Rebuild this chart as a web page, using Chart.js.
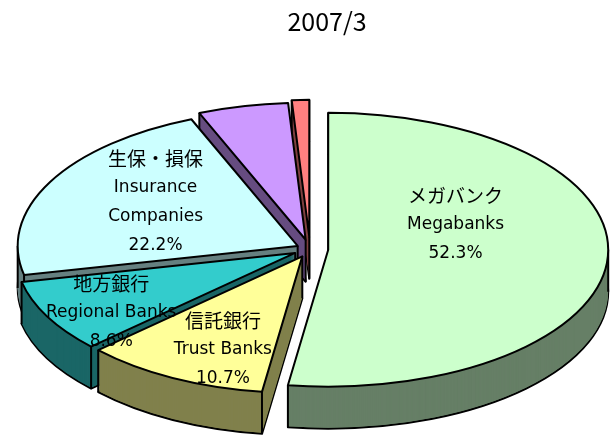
<!DOCTYPE html>
<html>
<head>
<meta charset="utf-8">
<script src="https://cdn.jsdelivr.net/npm/chart.js@4"></script>
<style>
  html, body { margin: 0; padding: 0; background: #fff; }
  #wrap { width: 614px; height: 446px; }
</style>
</head>
<body>
<div id="wrap"><canvas id="pie"></canvas></div>
<script>
// holdings by type of institution, March 2007
const sectorsJa = ['メガバンク', '信託銀行', '地方銀行', '生保・損保', 'その他(1)', 'その他(2)'];
const sectorsEn = [['Megabanks'], ['Trust Banks'], ['Regional Banks'], ['Insurance', 'Companies'], [], []];
const shares    = [52.3, 10.7, 8.6, 22.2, 5.2, 1.0];
const period    = '2007/3';

// look of each slice: top face, side wall, how far it is pulled out
const topColors  = ['#ccffcc', '#ffff99', '#33cccc', '#ccffff', '#cc99ff', '#ff8080'];
const sideColors = ['#667f66', '#80804c', '#1a6666', '#668080', '#664c80', '#804040'];
const explode    = [0.065, 0.06, 0.06, 0.05, 0.07, 0.09];
const labelR     = [0.49, 0.74, 0.79, 0.60];
const labelTurn  = [-26, -5, -6, 4.5];

const CENTER_X = 0.505;  // pie centre, share of canvas width
const RADIUS_X = 0.456;  // horizontal radius, share of canvas width
const TILT = 0.489;      // ry / rx
const DEPTH = 42;        // thickness of the disc in px

const pie3d = {
  id: 'pie3d',
  beforeDatasetsDraw(chart) {
    const ctx = chart.ctx;
    const area = chart.chartArea;
    const meta = chart.getDatasetMeta(0);
    const rx = chart.width * RADIUS_X;
    const ry = rx * TILT;
    const cx = chart.width * CENTER_X;
    const cy = area.bottom - DEPTH - ry;

    const wedge = (arc, ox, oy) => {
      const R = arc.outerRadius;
      ctx.save();
      ctx.translate(cx + ox, cy + oy);
      ctx.scale(rx / R, ry / R);
      ctx.translate(-arc.x, -arc.y);
      ctx.beginPath();
      ctx.moveTo(arc.x, arc.y);
      ctx.arc(arc.x, arc.y, R, arc.startAngle, arc.endAngle);
      ctx.closePath();
      ctx.restore();
    };

    // back slices first
    const order = meta.data.map((arc, i) => i).sort((a, b) => {
      const ma = (meta.data[a].startAngle + meta.data[a].endAngle) / 2;
      const mb = (meta.data[b].startAngle + meta.data[b].endAngle) / 2;
      return Math.sin(ma) - Math.sin(mb);
    });

    ctx.save();
    ctx.lineJoin = 'round';
    ctx.lineWidth = 2;
    ctx.strokeStyle = '#000';
    order.forEach(i => {
      const arc = meta.data[i];
      const mid = (arc.startAngle + arc.endAngle) / 2;
      const ox = Math.cos(mid) * explode[i] * rx;
      const oy = Math.sin(mid) * explode[i] * ry;

      // side wall, stacked from the bottom up
      ctx.fillStyle = sideColors[i];
      wedge(arc, ox, oy + DEPTH);
      ctx.fill();
      ctx.stroke();
      for (let d = DEPTH - 1; d >= 1; d--) {
        wedge(arc, ox, oy + d);
        ctx.fill();
      }

      // vertical edges at the corners and at the rim's far left/right
      const angles = [arc.startAngle, arc.endAngle];
      [0, Math.PI, 2 * Math.PI, -Math.PI].forEach(t => {
        if (t > arc.startAngle && t < arc.endAngle) angles.push(t);
      });
      const pts = [[cx + ox, cy + oy]].concat(angles.map(t =>
        [cx + ox + Math.cos(t) * rx, cy + oy + Math.sin(t) * ry]));
      ctx.beginPath();
      pts.forEach(([x, y]) => { ctx.moveTo(x, y); ctx.lineTo(x, y + DEPTH); });
      ctx.stroke();

      // top face
      ctx.fillStyle = topColors[i];
      wedge(arc, ox, oy);
      ctx.fill();
      ctx.stroke();
    });

    // labels
    ctx.fillStyle = '#000';
    ctx.textAlign = 'center';
    ctx.textBaseline = 'middle';
    meta.data.forEach((arc, i) => {
      if (!sectorsEn[i].length) return;
      const mid = (arc.startAngle + arc.endAngle) / 2;
      const ox = Math.cos(mid) * explode[i] * rx;
      const oy = Math.sin(mid) * explode[i] * ry;
      const a = mid + labelTurn[i] * Math.PI / 180;
      const lx = cx + ox + Math.cos(a) * labelR[i] * rx;
      const ly = cy + oy + Math.sin(a) * labelR[i] * ry;
      const lines = [sectorsJa[i]].concat(sectorsEn[i], [shares[i].toFixed(1) + '%']);
      const step = 29;
      const y0 = ly - (lines.length - 1) * step / 2;
      lines.forEach((txt, k) => {
        ctx.font = k === 0 ? '19px "Noto Sans CJK JP"' : '17px "DejaVu Sans"';
        ctx.fillText(txt, lx, y0 + k * step);
      });
    });
    ctx.restore();
    return false;
  }
};

new Chart(document.getElementById('pie'), {
  type: 'pie',
  data: {
    labels: sectorsJa,
    datasets: [{
      data: shares,
      backgroundColor: topColors,
      borderWidth: 0
    }]
  },
  options: {
    responsive: true,
    maintainAspectRatio: false,
    animation: false,
    // the side padding only moves the title; the pie is placed by CENTER_X
    layout: { padding: { left: 50, right: 10, top: 0, bottom: 18 } },
    plugins: {
      legend: { display: false },
      tooltip: { enabled: false },
      title: {
        display: true,
        text: period,
        color: '#000',
        font: { family: '"Noto Sans CJK JP"', size: 25, weight: 'normal' },
        padding: { top: 6, bottom: 20 }
      }
    }
  },
  plugins: [pie3d]
});
</script>
</body>
</html>
